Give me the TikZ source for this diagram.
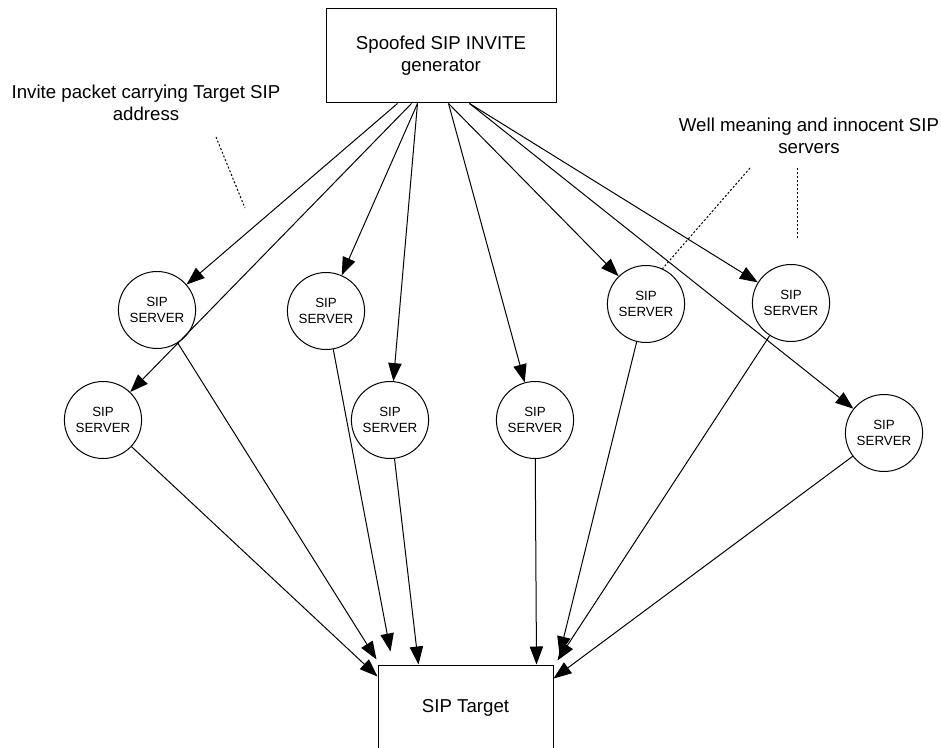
\documentclass[tikz,border=0pt]{standalone}
\usepackage{fontspec}
\setmainfont{Liberation Sans}
\usetikzlibrary{shapes.geometric,arrows.meta,calc}

\begin{document}
\begin{tikzpicture}[x=0.75pt,y=-0.75pt,
  line width=0.75pt,
  box/.style={draw, rectangle, inner sep=0pt, align=center,
    font=\fontsize{14pt}{16.5pt}\selectfont},
  server/.style={draw, ellipse, minimum width=52.5pt, minimum height=57.75pt,
    inner sep=0pt, align=center, font=\fontsize{10pt}{12pt}\selectfont},
  note/.style={align=center, inner sep=0pt,
    font=\fontsize{14pt}{16.5pt}\selectfont},
  flow/.style={-{Triangle[length=13.5pt,width=10pt]}},
  pointer/.style={dash pattern=on 1.5pt off 1.5pt}
]
\useasboundingbox (0,0) rectangle (941,748);

% attacker and victim
\node[box, minimum width=172.5pt, minimum height=70.5pt] (gen) at (441,56)
  {Spoofed SIP INVITE\\generator};
\node[box, minimum width=131.25pt, minimum height=63.75pt] (tgt) at (465.5,707.5)
  {SIP Target};

% reflecting servers
\node[server] (s1) at (157,310) {SIP\\SERVER};
\node[server] (s2) at (326,311) {SIP\\SERVER};
\node[server] (s3) at (103,420) {SIP\\SERVER};
\node[server] (s4) at (390,420) {SIP\\SERVER};
\node[server] (s5) at (535,420) {SIP\\SERVER};
\node[server] (s6) at (646,304) {SIP\\SERVER};
\node[server] (s7) at (791,303) {SIP\\SERVER};
\node[server] (s8) at (884,433) {SIP\\SERVER};

% annotations
\node[note] (lblA) at (146,103) {Invite packet carrying Target SIP\\address};
\node[note] (lblB) at (809,136) {Well meaning and innocent SIP\\servers};

% exit points on the generator
\coordinate (g1) at ($(gen.south west)+(72,0)$);
\coordinate (g2) at ($(gen.south west)+(86,0)$);
\coordinate (g3) at ($(gen.south west)+(92,0)$);
\coordinate (g4) at ($(gen.south west)+(123,0)$);
\coordinate (g5) at ($(gen.south west)+(144,0)$);

% arrival points at the target
\coordinate (t1) at ($(tgt.north west)+(-1,-5)$);
\coordinate (t2) at ($(tgt.north west)+(13,-13)$);
\coordinate (t3) at ($(tgt.north west)+(0,12)$);
\coordinate (t4) at ($(tgt.north west)+(41,0)$);
\coordinate (t5) at ($(tgt.north west)+(159,0)$);
\coordinate (t6) at ($(tgt.north east)+(6,-10)$);
\coordinate (t7) at ($(tgt.north east)+(4,-4)$);
\coordinate (t8) at ($(tgt.north east)+(0,14)$);

% spoofed invites
\draw[flow] (g1) -- (s1);
\draw[flow] (g2) -- (s3);
\draw[flow] (g3) -- (s2);
\draw[flow] (g3) -- (s4);
\draw[flow] (g4) -- (s5);
\draw[flow] (g4) -- (s6);
\draw[flow] (g5) -- (s7);
\draw[flow] (g5) -- (s8);

% responses to the target
\draw[flow] (s1) -- (t1);
\draw[flow] (s2) -- (t2);
\draw[flow] (s3) -- (t3);
\draw[flow] (s4) -- (t4);
\draw[flow] (s5) -- (t5);
\draw[flow] (s6) -- (t6);
\draw[flow] (s7) -- (t7);
\draw[flow] (s8) -- (t8);

% dotted pointers
\coordinate (pa1) at (216,137);
\coordinate (pa2) at (245,208);
\coordinate (pb1) at (750,168);
\coordinate (pc1) at (797,168);
\coordinate (pc2) at (797,240);
\draw[pointer] (pa1) -- (pa2);
\draw[pointer] (pb1) -- (s6.65);
\draw[pointer] (pc1) -- (pc2);
\end{tikzpicture}
\end{document}
